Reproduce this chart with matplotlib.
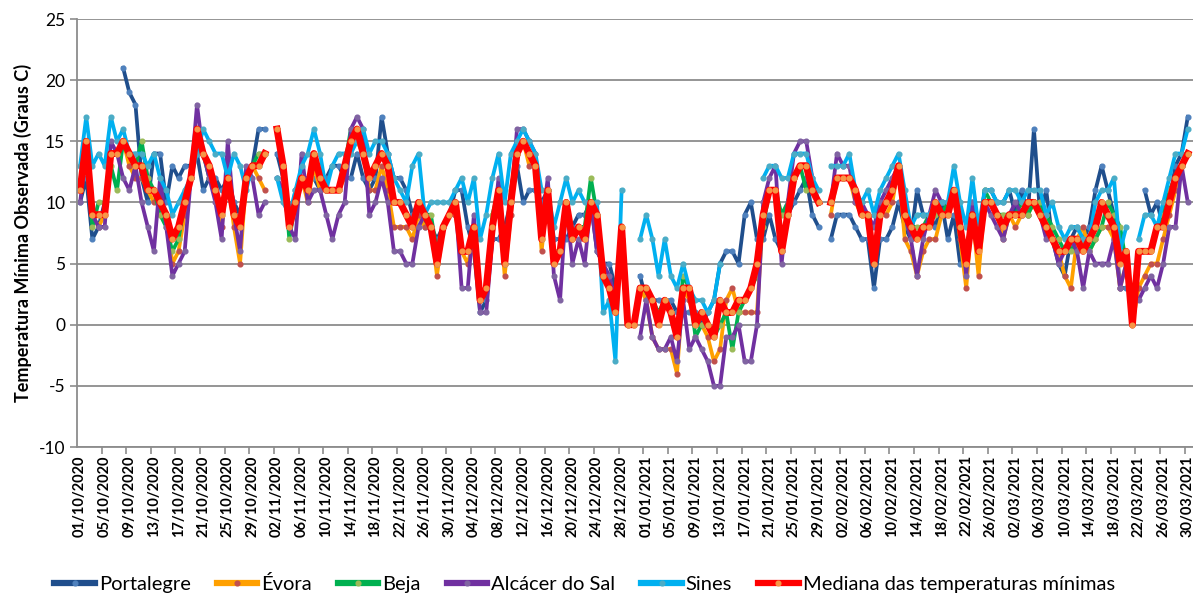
import numpy as np
import pandas as pd
import matplotlib
matplotlib.use("Agg")
import matplotlib.pyplot as plt

nan = np.nan

# 01/10/2020 .. 30/03/2021, one value per day (nan = no data)
dates = pd.date_range("2020-10-01", "2021-03-30", freq="D")
date_labels = [d.strftime("%d/%m/%Y") for d in dates]

portalegre = [
    10, 12, 7, 8, 10, nan, nan, 21, 19, 18, 12, 10, 14, 14, 10, 13, 12, 13, 13, 14,
    11, 12, 12, 11, 12, 10, 9, 12, 13, 16, 16, nan,
    14, 12, 8, 11, 12, 12, 12, 11, 12, 13, 13, 12, 12, 14, 12, 11, 12, 17, 14, 12,
    12, 11, 9, 10, 8, 8, 7, 8, 9,
    11, 11, 8, 6, 1, 2, 7, 7, 8, 10, 13, 10, 11, 11, 10, 11, 7, 7, 7, 8,
    9, 9, 10, 6, 5, 5, 3, nan, nan, nan,
    4, 2, 2, 2, 2, 2, 1, 1, 1, 1, 0, 1, 2, 5, 6, 6, 5, 9, 10, 7,
    7, 9, 7, 6, 9, 10, 11, 12, 9, 8, nan,
    7, 9, 9, 9, 8, 7, 7, 3, 7, 7, 8, 10, 8, 7, 11, 9, 9, 8, 10, 7,
    9, 5, 5, 10, 7, 11, 11, 10, 10,
    11, 9, 11, 9, 16, 9, 11, 7, 5, 4, 7, 8, 7, 8, 11, 13, 11, 9, 3, 3,
    nan, nan, 11, 9, 10, 8, 10, 13, 14, 17,
]

evora = [
    11, 14, 9, 8, 9, 14, 14, 15, 13, 12, 12, 11, 10, 10, 9, 5, 6, 9, 12, 16,
    14, 13, 11, 8, 12, 8, 5, 12, 13, 12, 11, nan,
    16, 13, 9, 10, 12, 10, 13, 11, 11, 11, 11, 12, 15, 15, 14, 11, 11, 13, 11, 8,
    8, 8, 7, 9, 8, 8, 4, 8, 9,
    9, 6, 5, 7, 2, 3, 8, 10, 4, 9, 14, 15, 13, 13, 6, 11, 5, 6, 9, 7,
    8, 7, 10, 9, 4, 3, 1, 7, 0, 0,
    3, 2, -1, -2, -2, -2, -4, 3, 2, 0, 0, -1, -3, -2, 2, 3, 1, 1, 1, 1,
    9, 11, 11, 6, 9, 12, 13, 13, 11, 10, nan,
    9, 12, 12, 12, 10, 9, 9, 5, 9, 9, 10, 13, 7, 6, 4, 6, 7, 7, 9, 9,
    11, 7, 3, 9, 4, 10, 10, 9, 7,
    9, 8, 9, 9, 10, 10, 9, 7, 6, 4, 3, 7, 8, 6, 7, 8, 8, 7, 3, 5,
    0, 3, 4, 5, 5, 7, 9, 11, 13, 14,
]

beja = [
    11, 14, 8, 10, 10, 13, 11, 15, 14, 13, 15, 12, 11, 9, 8, 6, 7, 10, 12, 16,
    14, 12, 11, 9, 12, 9, 8, 12, 13, 14, 14, nan,
    16, 13, 7, 10, 12, 11, 14, 12, 11, 11, 11, 13, 16, 16, 14, 12, 13, 14, 13, 10,
    10, 9, 8, 10, 9, 9, 6, 8, 9,
    10, 6, 6, 8, 2, 3, 9, 11, 5, 11, 14, 15, 14, 13, 7, 11, 6, 6, 10, 7,
    8, 8, 12, 9, 4, 3, 1, 8, nan, nan,
    3, 3, 2, 1, 2, 1, -1, 4, 3, -1, 0, 0, -1, 0, 1, -2, 1, 2, 3, 4,
    8, 11, 11, 9, 10, 12, 13, 11, 11, 10, nan,
    10, 12, 12, 12, 11, 9, 9, 6, 9, 10, 11, 13, 9, 8, 8, 8, 9, 9, 9, 10,
    11, 8, 6, 9, 7, 11, 10, 9, 9,
    9, 9, 10, 9, 10, 10, 9, 8, 7, 6, 6, 7, 7, 6, 7, 8, 10, 9, 8, 5,
    nan, 6, 6, 6, 8, 9, 11, 12, 13, 14,
]

alcacer = [
    10, 14, 9, 8, 8, 15, 14, 12, 11, 13, 10, 8, 6, 12, 8, 4, 5, 6, 12, 18,
    14, 12, 10, 7, 15, 9, 6, 13, 12, 9, 10, nan,
    12, 11, 8, 7, 14, 10, 11, 11, 9, 7, 9, 10, 16, 17, 16, 9, 10, 12, 10, 6,
    6, 5, 5, 8, 9, 8, 5, 8, 9,
    10, 3, 3, 9, 1, 1, 7, 12, 5, 10, 16, 16, 15, 14, 8, 12, 4, 2, 10, 5,
    7, 5, 10, 6, 5, 4, 2, nan, nan, nan,
    -1, 2, -1, -2, -2, -1, -3, 2, -2, -1, -2, -3, -5, -5, -1, -1, 0, -3, -3, 0,
    10, 12, 13, 5, 10, 14, 15, 15, 12, 10, nan,
    10, 14, 13, 13, 10, 10, 9, 8, 10, 11, 12, 13, 9, 7, 4, 7, 9, 11, 10, 10,
    10, 9, 4, 10, 8, 10, 9, 8, 7,
    9, 10, 9, 10, 10, 9, 7, 7, 5, 6, 7, 6, 3, 6, 5, 5, 5, 7, 3, 5,
    nan, 2, 3, 4, 3, 5, 8, 8, 13, 10,
]

sines = [
    13, 17, 13, 14, 13, 17, 15, 16, 14, 14, 14, 13, 14, 12, 11, 9, 10, 11, 12, 14,
    16, 15, 14, 14, 12, 14, 13, 11, 13, 13, 14, nan,
    12, 10, 9, 11, 13, 14, 16, 14, 11, 13, 14, 14, 14, 15, 16, 14, 15, 15, 14, 12,
    11, 10, 13, 14, 9, 10, 10, 10, 10,
    11, 12, 10, 12, 7, 9, 12, 14, 10, 14, 15, 16, 15, 14, 11, 11, 8, 10, 12, 10,
    11, 10, 10, 10, 1, 2, -3, 11, nan, nan,
    7, 9, 7, 4, 7, 4, 3, 5, 3, 2, 2, 1, 2, 5, nan, nan, nan, nan, nan, nan,
    12, 13, 13, 12, 12, 14, 14, 14, 12, 11, nan,
    13, 13, 13, 14, 11, 10, 11, 9, 11, 12, 13, 14, 11, 8, 9, 9, 9, 10, 10, 10,
    13, 10, 8, 12, 8, 11, 11, 10, 10,
    11, 11, 10, 11, 11, 11, 9, 10, 8, 7, 8, 8, 7, 7, 10, 11, 11, 12, 6, 8,
    nan, 7, 9, 9, 8, 10, 12, 14, 14, 16,
]

mediana = [
    11, 15, 9, 9, 9, 14, 14, 15, 14, 13, 13, 11, 11, 10, 9, 7, 8, 10, 12, 16,
    14, 13, 11, 9, 12, 9, 8, 12, 13, 13, 14, nan,
    16, 13, 8, 10, 12, 11, 14, 12, 11, 11, 11, 13, 15, 16, 14, 12, 13, 14, 13, 10,
    10, 9, 8, 10, 9, 8, 5, 8, 9,
    10, 6, 6, 8, 2, 3, 8, 11, 5, 10, 14, 15, 14, 13, 7, 11, 5, 6, 10, 7,
    8, 7, 10, 9, 4, 3, 1, 8, 0, 0,
    3, 3, 2, 0, 2, 1, -1, 3, 3, 0, 1, 0, -1, 2, 1, 1, 2, 2, 3, 5,
    9, 11, 11, 6, 9, 12, 13, 13, 11, 10, nan,
    10, 12, 12, 12, 11, 9, 9, 5, 9, 10, 11, 13, 9, 8, 7, 8, 8, 10, 9, 9,
    11, 8, 5, 9, 6, 10, 10, 9, 8,
    9, 9, 9, 10, 10, 9, 8, 7, 6, 6, 7, 7, 6, 7, 8, 10, 9, 8, 5, 6,
    0, 6, 6, 6, 8, 8, 10, 12, 13, 14,
]

# name, values, line colour, marker colour, line width
series = [
    ("Portalegre", portalegre, "#1F4E8C", "#4F81BD", 2.7),
    ("Évora", evora, "#FFA000", "#C0504D", 2.7),
    ("Beja", beja, "#00B050", "#9BBB59", 2.7),
    ("Alcácer do Sal", alcacer, "#7030A0", "#8064A2", 2.7),
    ("Sines", sines, "#00B0F0", "#4BACC6", 2.7),
    ("Mediana das temperaturas mínimas", mediana, "#FF0000", "#F79646", 5.0),
]

plt.rcParams["font.family"] = ["Lato", "DejaVu Sans"]
plt.rcParams["axes.unicode_minus"] = False
grey = "#8C8C8C"

fig = plt.figure(figsize=(11.93, 5.96), dpi=100)
ax = fig.add_axes([77 / 1193, 1 - 447 / 596, 1 - 77 / 1193, (447 - 19) / 596])

x = np.arange(len(dates))
for name, vals, lc, mc, lw in series:
    ax.plot(x, np.array(vals, dtype=float), color=lc, lw=lw, marker="o", ms=3.4,
            mfc=mc, mec=mc, label=name, solid_joinstyle="round")

ax.set_xlim(-0.5, 180.85)
ax.set_ylim(-10, 25)
ax.set_yticks(range(-10, 26, 5))
ax.yaxis.grid(True, color=grey, lw=1.3)
ax.set_axisbelow(True)

ax.set_xticks(x[::4])
ax.set_xticklabels(date_labels[::4], rotation=90, fontsize=10.5, fontweight="bold")
ax.set_xticks(np.arange(3.5, 181, 4), minor=True)
ax.tick_params(axis="x", which="major", length=0, pad=6)
ax.tick_params(axis="x", which="minor", length=5, color=grey, width=1.2)
ax.tick_params(axis="y", length=5, color=grey, width=1.2, labelsize=12.5)

for s in ["top", "right"]:
    ax.spines[s].set_visible(False)
for s in ["left", "bottom"]:
    ax.spines[s].set_color(grey)
    ax.spines[s].set_linewidth(1.3)

ax.set_ylabel("Temperatura Mínima Observada (Graus C)", fontsize=13,
              fontweight="bold", labelpad=5)

leg = fig.legend(loc="lower center", bbox_to_anchor=(0.49, -0.025), ncol=6,
                 frameon=False, fontsize=14.5, handlelength=2.0, columnspacing=1.3,
                 handletextpad=0.2)
for line in leg.get_lines():
    line.set_linewidth(4.5)

fig.savefig("out.png", dpi=100)
